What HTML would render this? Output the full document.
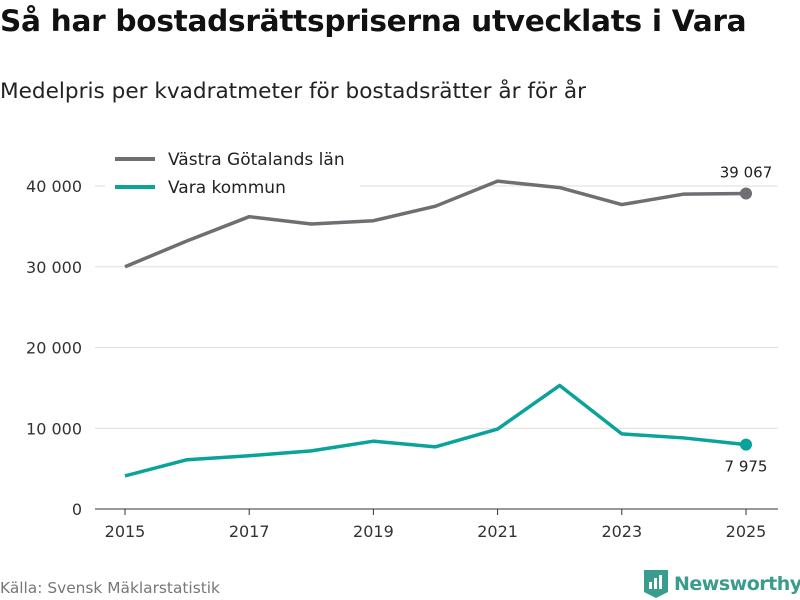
<!DOCTYPE html>
<html><head><meta charset="utf-8"><style>
body{margin:0;background:#fff;font-family:"DejaVu Sans","Liberation Sans",sans-serif;}
#wrap{position:relative;width:800px;height:600px;overflow:hidden;}
h1{position:absolute;left:0;top:4px;margin:0;font-size:29.6px;font-weight:bold;color:#111;letter-spacing:-0.3px;white-space:nowrap;}
#sub{position:absolute;left:0;top:79px;font-size:21.6px;color:#222;white-space:nowrap;}
#src{position:absolute;left:0;top:579px;font-size:15.4px;color:#777;}
#logo{position:absolute;left:644px;top:570px;font-size:19px;font-weight:bold;color:#3a9c8c;display:flex;align-items:center;gap:6px;letter-spacing:-0.5px;}
</style></head><body>
<div id="wrap">
<h1>Så har bostadsrättspriserna utvecklats i Vara</h1>
<div id="sub">Medelpris per kvadratmeter för bostadsrätter år för år</div>
<svg id="chart" width="800" height="600" style="position:absolute;left:0;top:0"></svg>
<div id="src">Källa: Svensk Mäklarstatistik</div>
<div id="logo"><svg width="24" height="28" viewBox="0 0 24 28"><path d="M0 0h24v22l-12 6-12-6z" fill="#3a9c8c"/><rect x="5" y="12" width="3" height="7" fill="#fff"/><rect x="10" y="8" width="3" height="11" fill="#fff"/><rect x="15" y="5" width="3" height="14" fill="#fff"/></svg><span>Newsworthy</span></div>
</div>
<script>
const years=[2015,2016,2017,2018,2019,2020,2021,2022,2023,2024,2025];
const vgValues=[30000,33200,36200,35300,35700,37500,40600,39800,37700,39000,39067];
const varaValues=[4100,6100,6600,7200,8400,7700,9900,15300,9300,8800,7975];
const yTicks=[0,10000,20000,30000,40000];
const xTicks=[2015,2017,2019,2021,2023,2025];
const seriesNames=["Västra Götalands län","Vara kommun"];
const NS="http://www.w3.org/2000/svg";
const svg=document.getElementById('chart');
const x=v=>125+(v-2015)*(746-125)/10;
const y=v=>509-v*(509-186)/40000;
const fmt=v=>String(Math.round(v)).replace(/\B(?=(\d{3})+(?!\d))/g,"\u00a0");
function mk(tag,attrs){const e=document.createElementNS(NS,tag);for(const k in attrs)e.setAttribute(k,attrs[k]);svg.appendChild(e);return e;}
yTicks.forEach(t=>{
 const l=mk('line',{x1:95,x2:778,y1:y(t),y2:y(t),stroke:t===0?'#333':'#ddd','stroke-width':1});
 
 
 const tx=mk('text',{x:82,y:y(t)+6,'text-anchor':'end','font-size':16,fill:'#333'});
 tx.textContent=fmt(t);
 
 
});
xTicks.forEach(t=>{
 const l=mk('line',{x1:x(t),x2:x(t),y1:509,y2:515,stroke:'#333'});
 
 
 const tx=mk('text',{x:x(t),y:537,'text-anchor':'middle','font-size':16,fill:'#333'});
 tx.textContent=t;
 
 
});
function line(vals,color,name){
 const p=mk('polyline',{points:vals.map((v,i)=>x(years[i])+','+y(v)).join(' '),fill:'none',stroke:color,'stroke-width':3.5,'stroke-linejoin':'round'});
 
 
 const n=vals.length-1;
 const c=mk('circle',{cx:x(years[n]),cy:y(vals[n]),r:6,fill:color});
 
 
}
line(vgValues,'#6e6e73','vastra-gotaland');
line(varaValues,'#0aa39a','vara');
const n=years.length-1;
let t1=mk('text',{x:x(years[n]),y:y(vgValues[n])-16,'text-anchor':'middle','font-size':15,fill:'#222'});
t1.textContent=fmt(vgValues[n]);


let t2=mk('text',{x:x(years[n]),y:y(varaValues[n])+27,'text-anchor':'middle','font-size':15,fill:'#222'});
t2.textContent=fmt(varaValues[n]);


const bg=mk('rect',{x:105,y:146,width:255,height:58,fill:'#fff'});


['#6e6e73','#0aa39a'].forEach((c,i)=>{
 const l=mk('line',{x1:115,x2:155,y1:159+i*28,y2:159+i*28,stroke:c,'stroke-width':4});
 
 
 const tx=mk('text',{x:168,y:165+i*28,'font-size':17,fill:'#222'});
 tx.textContent=seriesNames[i];
 
 
});
</script>
</body></html>
